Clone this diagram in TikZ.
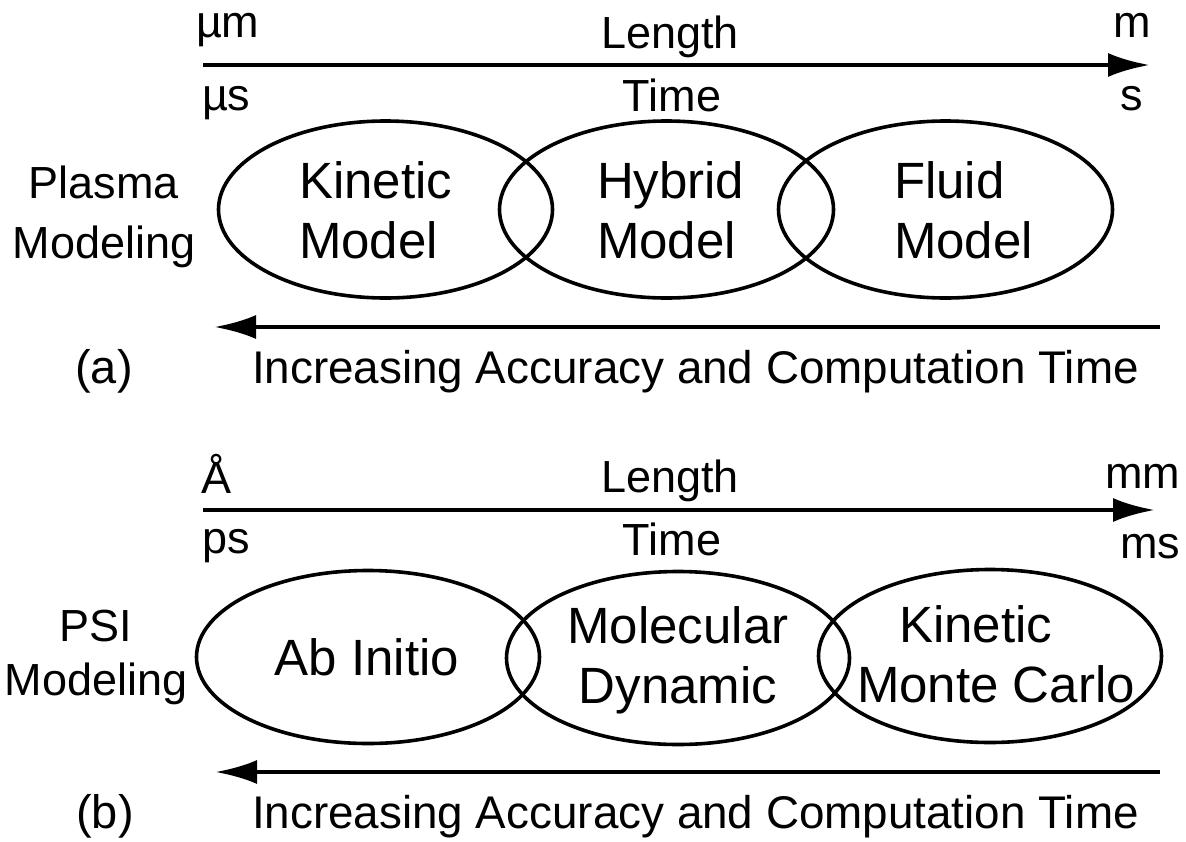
\documentclass[tikz,border=0pt]{standalone}
\usepackage{fontspec}
\setmainfont{Liberation Sans}
\usetikzlibrary{arrows.meta,shapes.geometric}
\begin{document}
\begin{tikzpicture}[x=1pt,y=-1pt,
  every node/.style={inner sep=0pt, outer sep=0pt},
  oval/.style={draw, ellipse, line width=3.6pt},
  ovalA/.style={oval, minimum width=334pt, minimum height=177pt},
  ovalB/.style={oval, minimum width=343pt, minimum height=173pt},
  axis/.style={line width=4.8pt, -{Latex[length=42pt,width=24pt]}},
  unit/.style={font=\fontsize{45}{52}\selectfont, anchor=base},
  model/.style={font=\fontsize{51}{60}\selectfont, anchor=base west, align=left},
  cmodel/.style={font=\fontsize{51}{60}\selectfont, anchor=base, align=center},
  side/.style={font=\fontsize{45}{60}\selectfont, anchor=base, align=center},
  note/.style={font=\fontsize{45.8}{54}\selectfont, anchor=base west},
  tag/.style={font=\fontsize{47}{54}\selectfont, anchor=base},
]
\useasboundingbox (0,0) rectangle (1186,841);

% ---------------- (a) plasma modeling ----------------
% (multi-line nodes are placed by the baseline of their last line)
\node[unit, anchor=base west] (umA) at (196,37) {µm};
\node[unit] (lenA) at (670,48) {Length};
\node[unit] (mA) at (1132,37) {m};
\coordinate (axA0) at (203,65);
\coordinate (axA1) at (1150,65);
\draw[axis] (axA0) -- (axA1);
\node[unit, anchor=base west] (usA) at (202,110) {µs};
\node[unit] (timeA) at (672,111) {Time};
\node[unit] (sA) at (1132,110) {s};

\node[side] (plasma) at (104,258) {Plasma\\Modeling};

\node[ovalA] (kin) at (385.5,209.5) {};
\node[ovalA] (hyb) at (666.5,209.5) {};
\node[ovalA] (flu) at (945.5,209.5) {};
\node[model] (kinT) at (299,258) {Kinetic\\Model};
\node[model] (hybT) at (597,258) {Hybrid\\Model};
\node[model] (fluT) at (894,258) {Fluid\\Model};

\coordinate (accA0) at (1160,327);
\coordinate (accA1) at (214,327);
\draw[axis] (accA0) -- (accA1);
\node[tag] (labA) at (104,383) {(a)};
\node[note] (accA) at (252,383) {Increasing Accuracy and Computation Time};

% ---------------- (b) PSI modeling ----------------
\node[unit, anchor=base west] (angB) at (201,493) {Å};
\node[unit] (lenB) at (670,492) {Length};
\node[unit, anchor=base east] (mmB) at (1180,488) {mm};
\coordinate (axB0) at (203,510);
\coordinate (axB1) at (1155,510);
\draw[axis] (axB0) -- (axB1);
\node[unit, anchor=base west] (psB) at (202,553) {ps};
\node[unit] (timeB) at (672,555) {Time};
\node[unit, anchor=base east] (msB) at (1180,558) {ms};

\node[side, font=\fontsize{45}{54}\selectfont] (psi) at (96,695) {PSI\\Modeling};

\node[ovalB] (abi) at (368,657) {};
\node[ovalB] (mol) at (678,658) {};
\node[ovalB] (kmc) at (990,656) {};
\node[cmodel] (abiT) at (367,675) {Ab Initio};
\node[cmodel] (molT) at (678,703) {Molecular\\Dynamic};
\node[model] (kmcT) at (857,702) {\hspace*{42pt}Kinetic\\Monte Carlo};

\coordinate (accB0) at (1160,772);
\coordinate (accB1) at (215,772);
\draw[axis] (accB0) -- (accB1);
\node[tag] (labB) at (105,828) {(b)};
\node[note] (accB) at (252,828) {Increasing Accuracy and Computation Time};
\end{tikzpicture}
\end{document}
